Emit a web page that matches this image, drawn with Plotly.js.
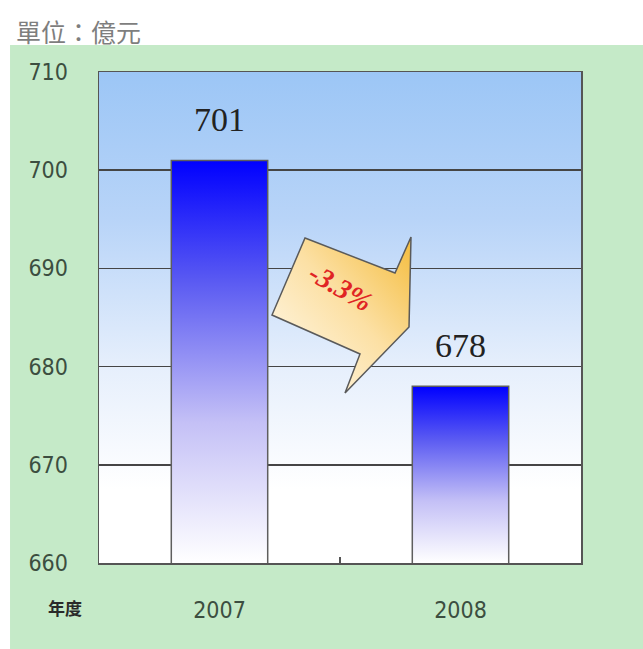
<!DOCTYPE html>
<html>
<head>
<meta charset="utf-8">
<script src="https://cdn.plot.ly/plotly-3.0.1.min.js"></script>
<style>
html,body{margin:0;padding:0;background:#fff;}
#chart{width:643px;height:649px;}
</style>
</head>
<body>
<div id="chart"></div>
<script>
// ---- data ----
const years = ['2007', '2008'];
const revenue = [701, 678];
const changeLabel = '-3.3%';
const unitLabel = '單位：億元';
const yearAxisLabel = '年度';
const yTicks = [660, 670, 680, 690, 700, 710];
const yRange = [660, 710];

const gd = document.getElementById('chart');

const serif = '"Liberation Serif", "DejaVu Serif", serif';
const narrow = '"Liberation Sans Narrow", "DejaVu Sans Condensed", "Liberation Sans", sans-serif';
const cjk = '"Noto Sans CJK TC", "Noto Sans CJK SC", sans-serif';

const trace = {
  type: 'bar',
  x: years,
  y: revenue,
  marker: { color: '#4040F0', line: { color: '#5E5E5E', width: 1.5 } },
  hoverinfo: 'x+y'
};

// callout polygon (paper coords)
const callout = 'M0.4274,0.6619 L0.6141,0.5906 L0.6473,0.6640 L0.6432,0.4807 L0.5104,0.3462 L0.5415,0.4257 L0.3589,0.5051 Z';

const layout = {
  width: 643, height: 649,
  margin: { l: 99, r: 62, t: 72, b: 86 },
  paper_bgcolor: '#C5EAC8',
  plot_bgcolor: '#DDEBFA',
  showlegend: false,
  bargap: 0.6,
  xaxis: {
    type: 'category',
    range: [-0.5, years.length - 0.5],
    showgrid: false,
    showline: true, mirror: true, linecolor: '#555555', linewidth: 1.5,
    ticks: 'inside', tickson: 'boundaries', ticklen: 6, tickcolor: '#555555', tickwidth: 1.5,
    ticklabelstandoff: 26,
    tickangle: 0,
    tickfont: { family: narrow, size: 23, color: '#3C4E40' }
  },
  yaxis: {
    range: yRange,
    tickvals: yTicks,
    ticktext: yTicks.map(String),
    showgrid: true, gridcolor: '#454545', gridwidth: 1.5,
    zeroline: false,
    showline: true, mirror: true, linecolor: '#555555', linewidth: 1.5,
    ticks: '',
    ticklabelstandoff: 25,
    tickfont: { family: narrow, size: 23, color: '#3C4E40' }
  },
  shapes: [
    { type: 'rect', xref: 'paper', yref: 'paper', x0: -0.3, x1: 1.2, y0: 1.0550, y1: 1.2,
      fillcolor: '#FFFFFF', line: { width: 0 }, layer: 'below' },
    { type: 'rect', xref: 'paper', yref: 'paper', x0: -0.3, x1: -0.1846, y0: -0.3, y1: 1.2,
      fillcolor: '#FFFFFF', line: { width: 0 }, layer: 'below' },
    { type: 'path', xref: 'paper', yref: 'paper', path: callout,
      fillcolor: '#FCDC90', line: { color: '#5A5A5A', width: 1.5 }, layer: 'above' }
  ],
  annotations: [
    { xref: 'paper', yref: 'paper', x: -0.177, y: 1.083, xanchor: 'left', yanchor: 'middle',
      text: unitLabel, showarrow: false, font: { family: cjk, size: 25, color: '#7E7E7E' } },
    { xref: 'paper', yref: 'paper', x: -0.0705, y: -0.0916, xanchor: 'center', yanchor: 'middle',
      text: '<b>' + yearAxisLabel + '</b>', showarrow: false, font: { family: cjk, size: 17, color: '#2A2A2A' } },
    { xref: 'paper', yref: 'paper', x: 0.502, y: 0.562, xanchor: 'center', yanchor: 'middle',
      text: '<b><i>' + changeLabel + '</i></b>', textangle: 30, showarrow: false,
      font: { family: serif, size: 28, color: '#E02424' } }
  ].concat(years.map((yr, i) => ({
    x: i, y: revenue[i], xref: 'x', yref: 'y', yanchor: 'bottom',
    yshift: 20, text: String(revenue[i]), showarrow: false,
    font: { family: serif, size: 34, color: '#222222' }
  })))
};

Plotly.newPlot(gd, [trace], layout, { displayModeBar: false, staticPlot: true }).then(() => {
  const svgNS = 'http://www.w3.org/2000/svg';
  const mainSvg = gd.querySelector('svg.main-svg');
  const defs = document.createElementNS(svgNS, 'defs');
  mainSvg.insertBefore(defs, mainSvg.firstChild);

  function makeGrad(id, stops, attrs) {
    const g = document.createElementNS(svgNS, 'linearGradient');
    g.setAttribute('id', id);
    Object.keys(attrs).forEach(k => g.setAttribute(k, attrs[k]));
    stops.forEach(s => {
      const st = document.createElementNS(svgNS, 'stop');
      st.setAttribute('offset', s[0]);
      st.setAttribute('stop-color', s[1]);
      g.appendChild(st);
    });
    defs.appendChild(g);
  }

  const ya = gd._fullLayout.yaxis;
  const barStops = [[0, '#0000FF'], [0.3, '#5A5AF2'], [0.65, '#C4C0F6'], [1, '#FFFFFF']];
  gd.querySelectorAll('.bars .point path').forEach((p, i) => {
    const bb = p.getBBox();
    const top = Math.max(bb.y, 0);
    const bot = Math.min(bb.y + bb.height, ya._length);
    const id = 'barGrad' + i;
    makeGrad(id, barStops, { gradientUnits: 'userSpaceOnUse', x1: 0, x2: 0, y1: top, y2: bot });
    p.style.fill = 'url(#' + id + ')';
    p.style.fillOpacity = 1;
  });

  makeGrad('bgGrad', [[0, '#9CC6F6'], [0.3, '#B8D4F8'], [0.6, '#E6EFFC'], [0.85, '#FFFFFF'], [1, '#FFFFFF']],
    { x1: 0, x2: 0, y1: 0, y2: 1 });
  gd.querySelectorAll('rect.bg').forEach(r => {
    const w = parseFloat(r.getAttribute('width'));
    if (Math.abs(w - gd._fullLayout.xaxis._length) < 2) {
      r.style.fill = 'url(#bgGrad)';
      r.style.fillOpacity = 1;
    }
  });

  makeGrad('calloutGrad', [[0, '#F4BC3C'], [0.45, '#FCE0A4'], [1, '#FFFCF4']],
    { x1: 1, y1: 0, x2: 0, y2: 1 });
  gd.querySelectorAll('.layer-above .shapelayer path').forEach(p => {
    p.style.fill = 'url(#calloutGrad)';
    p.style.fillOpacity = 1;
  });
});
</script>
</body>
</html>
